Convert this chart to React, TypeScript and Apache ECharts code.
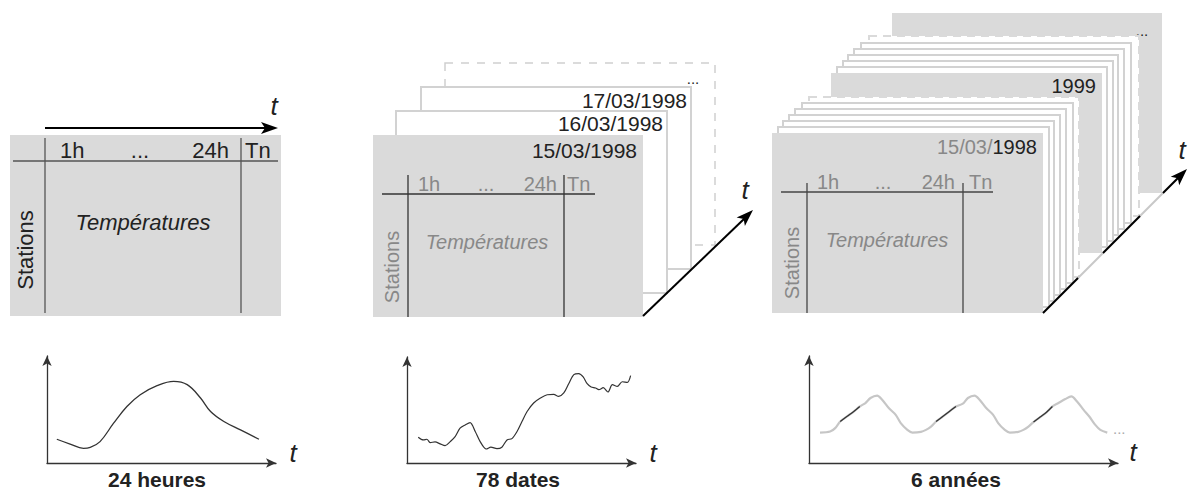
import React, { useEffect, useRef } from "react";
import * as echarts from "echarts";

// ---- texts ----
const headerLabels = ["1h", "...", "24h", "Tn"];
const rowLabel = "Stations";
const cellLabel = "Températures";
const dateSheets = ["15/03/1998", "16/03/1998", "17/03/1998"];
const yearPrefix = "15/03/";
const yearSheets = ["1998", "1999"];
const chartTitles = ["24 heures", "78 dates", "6 années"];
const timeLabel = "t";

// ---- curves (x: position along time axis 0-100, y: temperature level 0-100) ----
const hourlyCurve = [
  [4.2, 21.3], [9.9, 17], [15.6, 13.2], [18.5, 14], [22.7, 19.2], [28.5, 35.7],
  [34.2, 50.7], [39.9, 61.3], [47.1, 69.4], [54.2, 73.3], [60, 70.3], [65.7, 58.3],
  [70, 46.2], [75.7, 37.2], [82.8, 29.7], [90.7, 21.3],
];

const dailyCurve = [
  [4.8, 23.4], [7.0, 20.9], [8.5, 21.5], [9.9, 18.5], [12.0, 19.1], [14.2, 17.3],
  [16.3, 15.7], [18.5, 19.4], [20.6, 23.9], [22.7, 31.5], [24.9, 34.5], [27.0, 36.6],
  [29.2, 28.5], [31.3, 19.4], [33.9, 12.7], [35.9, 14.3], [38.5, 13.0], [40.6, 14.3],
  [42.8, 20.9], [44.9, 22.1], [47.1, 28.5], [49.2, 37.5], [51.4, 46.6], [54.2, 54.3],
  [57.1, 58.8], [60.0, 61.8], [62.8, 62.1], [64.9, 60.3], [67.1, 63.4], [69.2, 71.8],
  [71.4, 80.0], [73.5, 80.9], [75.4, 77.9], [77.1, 71.8], [78.8, 68.8], [80.7, 67.9],
  [82.1, 66.4], [84.0, 68.2], [86.0, 64.3], [87.9, 70.9], [90.0, 69.4], [92.1, 73.6],
  [94.3, 73.0], [95.7, 79.1],
];

const yearlyCurve = [
  [3.5, 27.3], [6.7, 28.2], [8.3, 31.3], [9.9, 37.2], [12.0, 41.7], [14.2, 46.2],
  [16.1, 50.7], [17.9, 53.8], [19.5, 58.3], [21.6, 60.4], [23.2, 56.8], [25.3, 49.3],
  [27.5, 43.2], [29.1, 35.8], [31.2, 29.7], [32.8, 27.3], [35.5, 27.9], [37.1, 29.7],
  [38.7, 32.7], [40.3, 37.2], [42.4, 41.7], [44.5, 46.2], [46.6, 50.7], [48.8, 53.2],
  [50.4, 58.3], [52.5, 60.4], [54.1, 56.8], [56.2, 49.3], [58.4, 43.2], [60.0, 35.8],
  [62.1, 29.7], [63.7, 27.3], [66.4, 27.9], [68.0, 29.7], [69.6, 32.7], [71.2, 36.7],
  [73.3, 41.2], [75.4, 45.7], [77.2, 50.7], [79.1, 53.8], [81.3, 57.4], [83.2, 59.7],
  [85.0, 55.2], [87.1, 47.7], [88.9, 41.7], [90.8, 34.2], [92.4, 29.7], [94.6, 27.3],
];

const yearlyHighlight = [
  [9.9, 37.2], [12.0, 41.7], [14.2, 46.2], [16.1, 50.7], null,
  [40.3, 37.2], [42.4, 41.7], [44.5, 46.2], [46.6, 50.7], null,
  [71.2, 36.7], [73.3, 41.2], [75.4, 45.7], [77.2, 50.7],
];

const FONT = "'Liberation Sans', Arial, sans-serif";
const SHEET_GRAY = "#dadada";
const SHEET_EDGE = "#d2d2d2";
const DARK = "#222";
const MID = "#888";

function txt(x: number, y: number, text: string, o: any = {}) {
  return {
    type: "text",
    x,
    y,
    rotation: o.rotation || 0,
    style: {
      text,
      fontFamily: FONT,
      fontSize: o.size || 20,
      fontStyle: o.italic ? "italic" : "normal",
      fontWeight: o.bold ? "bold" : "normal",
      fill: o.fill || DARK,
      align: o.align || "center",
      verticalAlign: o.valign || "middle",
    },
  };
}
function rect(x: number, y: number, w: number, h: number, style: any) {
  return { type: "rect", shape: { x, y, width: w, height: h }, style };
}
function line(x1: number, y1: number, x2: number, y2: number, stroke: string, lw: number) {
  return { type: "line", shape: { x1, y1, x2, y2 }, style: { stroke, lineWidth: lw } };
}
function arrowHead(tx: number, ty: number, fx: number, fy: number, len = 17, half = 6, notch = 4) {
  const dx = tx - fx, dy = ty - fy, d = Math.hypot(dx, dy);
  const ux = dx / d, uy = dy / d, px = -uy, py = ux;
  const bx = tx - ux * len, by = ty - uy * len;
  return {
    type: "polygon",
    shape: {
      points: [
        [tx, ty],
        [bx + px * half, by + py * half],
        [tx - ux * (len - notch), ty - uy * (len - notch)],
        [bx - px * half, by - py * half],
      ],
    },
    style: { fill: "#000" },
  };
}

function table(
  top: number, bottom: number, vx1: number, vx2: number, hy: number, hx1: number, hx2: number,
  labelY: number, pos: number[], cell: number[], rowPos: number[], color: string, lineColor: string, size: number
) {
  return [
    line(vx1, top, vx1, bottom, lineColor, 1.3),
    line(vx2, top, vx2, bottom, lineColor, 1.3),
    line(hx1, hy, hx2, hy, lineColor, 1.3),
    txt(pos[0], labelY, headerLabels[0], { align: "left", fill: color, size }),
    txt(pos[1], labelY, headerLabels[1], { fill: color, size }),
    txt(pos[2], labelY, headerLabels[2], { align: "right", fill: color, size }),
    txt(pos[3], labelY, headerLabels[3], { align: "left", fill: color, size }),
    txt(cell[0], cell[1], cellLabel, { italic: true, fill: color, size }),
    txt(rowPos[0], rowPos[1], rowLabel, { rotation: Math.PI / 2, fill: color, size }),
  ];
}

function buildGraphics() {
  const g: any[] = [];
  // ---------- panel 1 ----------
  g.push(rect(10, 135, 271, 181, { fill: SHEET_GRAY }));
  g.push(line(45, 128, 268, 128, "#000", 2));
  g.push(arrowHead(278, 128, 45, 128));
  g.push(txt(274, 106, timeLabel, { italic: true, size: 26 }));
  g.push(...table(138, 313, 45, 241, 161, 13, 278, 150, [60, 140, 229, 245], [143, 222], [25, 250], DARK, "#555", 22));

  // ---------- panel 2 ----------
  g.push(rect(445, 63, 270, 182, { fill: "#fff", stroke: "#cfcfcf", lineWidth: 1.5, lineDash: [8, 8] }));
  g.push(rect(421, 87, 270, 182, { fill: "#fff", stroke: SHEET_EDGE, lineWidth: 2 }));
  g.push(rect(396, 111, 271, 182, { fill: "#fff", stroke: SHEET_EDGE, lineWidth: 2 }));
  g.push(rect(373, 135, 270, 182, { fill: SHEET_GRAY }));
  g.push(txt(693, 78, "...", { size: 15 }));
  g.push(txt(687, 100, dateSheets[2], { align: "right", size: 21 }));
  g.push(txt(663, 123, dateSheets[1], { align: "right", size: 21 }));
  g.push(txt(637, 150, dateSheets[0], { align: "right", size: 21 }));
  g.push(...table(175, 317, 408, 564, 194, 382, 595, 184, [418, 486, 557, 567], [487, 242], [392, 267], MID, "#333", 20));
  g.push(line(643, 316, 745, 218, "#000", 2));
  g.push(arrowHead(753, 210, 643, 316));
  g.push(txt(745, 190, timeLabel, { italic: true, size: 26 }));

  // ---------- panel 3 ----------
  g.push(rect(892, 13, 270, 180, { fill: SHEET_GRAY }));
  g.push(txt(1142, 30, "...", { size: 15 }));
  g.push(rect(869, 36, 270, 180, { fill: "#fff", stroke: SHEET_GRAY, lineWidth: 2, lineDash: [8, 6] }));
  [[861, 43], [854, 49], [848, 55], [843, 61], [837, 67]].forEach(([x, y]) =>
    g.push(rect(x, y, 270, 180, { fill: "#fff", stroke: SHEET_EDGE, lineWidth: 2 }))
  );
  g.push(rect(831, 73, 271, 180, { fill: SHEET_GRAY }));
  g.push(txt(1096, 86, yearSheets[1], { align: "right", size: 20 }));
  g.push(rect(809, 97, 270, 180, { fill: "#fff", stroke: SHEET_GRAY, lineWidth: 2, lineDash: [8, 6] }));
  [[802, 103], [795, 109], [789, 115], [783, 121], [778, 127]].forEach(([x, y]) =>
    g.push(rect(x, y, 271, 180, { fill: "#fff", stroke: SHEET_EDGE, lineWidth: 2 }))
  );
  g.push(rect(772, 133, 271, 180, { fill: SHEET_GRAY }));
  g.push(txt(1037, 147, yearSheets[0], { align: "right", size: 20 }));
  g.push(txt(992.5, 147, yearPrefix, { align: "right", size: 20, fill: MID }));
  g.push(...table(183, 313, 807, 963, 192, 781, 993, 182, [817, 883, 955, 969], [887, 240], [792, 263], MID, "#444", 20));
  g.push(line(1043, 313, 1180, 176, "#c8c8c8", 2));
  g.push(line(1043, 313, 1078, 278, "#000", 2));
  g.push(line(1103, 253, 1140, 216, "#000", 2));
  g.push(line(1163, 193, 1178, 178, "#000", 2));
  g.push(arrowHead(1187, 169, 1043, 313));
  g.push(txt(1182, 150, timeLabel, { italic: true, size: 26 }));

  // ---------- bottom charts labels ----------
  g.push(txt(293, 453, timeLabel, { italic: true, size: 26 }));
  g.push(txt(653, 453, timeLabel, { italic: true, size: 26 }));
  g.push(txt(1133, 452, timeLabel, { italic: true, size: 26 }));
  g.push(txt(1113, 428, "...", { align: "left", size: 15, fill: "#aaa" }));
  g.push(txt(157, 479, chartTitles[0], { bold: true, size: 21 }));
  g.push(txt(518, 479, chartTitles[1], { bold: true, size: 21 }));
  g.push(txt(956, 479, chartTitles[2], { bold: true, size: 21 }));
  return g;
}

function axis(max: number) {
  return {
    type: "value",
    min: 0,
    max,
    axisLine: {
      show: true,
      onZero: false,
      symbol: ["none", "arrow"],
      symbolSize: [7, 10],
      lineStyle: { color: "#333", width: 1.3 },
    },
    axisTick: { show: false },
    axisLabel: { show: false },
    splitLine: { show: false },
  };
}

export default function App() {
  const ref = useRef<HTMLDivElement>(null);
  useEffect(() => {
    if (!ref.current) return;
    const chart = echarts.init(ref.current, undefined, { renderer: "svg" });
    chart.setOption({
      animation: false,
      backgroundColor: "#fff",
      grid: [
        { left: 47, top: 356, width: 229, height: 107 },
        { left: 407, top: 357, width: 229, height: 106 },
        { left: 809, top: 356, width: 309, height: 107 },
      ],
      xAxis: [0, 1, 2].map((i) => ({ ...axis(98), gridIndex: i })),
      yAxis: [0, 1, 2].map((i) => ({ ...axis(96), gridIndex: i })),
      series: [
        {
          type: "line", xAxisIndex: 0, yAxisIndex: 0, data: hourlyCurve, smooth: 0.4,
          symbol: "none", lineStyle: { color: "#333", width: 1.3 },
        },
        {
          type: "line", xAxisIndex: 1, yAxisIndex: 1, data: dailyCurve, smooth: 0.3,
          symbol: "none", lineStyle: { color: "#333", width: 1.2 },
        },
        {
          type: "line", xAxisIndex: 2, yAxisIndex: 2, data: yearlyCurve, smooth: 0.3,
          symbol: "none", lineStyle: { color: "#c6c6c6", width: 2.2 },
        },
        {
          type: "line", xAxisIndex: 2, yAxisIndex: 2, data: yearlyHighlight, smooth: 0.3,
          connectNulls: false, symbol: "none", lineStyle: { color: "#333", width: 1.3 },
        },
      ],
      graphic: buildGraphics(),
    });
    return () => chart.dispose();
  }, []);
  return (
    <div
      ref={ref}
      style={{ position: "absolute", left: 0, top: 0, width: "1188px", height: "493px" }}
    />
  );
}
